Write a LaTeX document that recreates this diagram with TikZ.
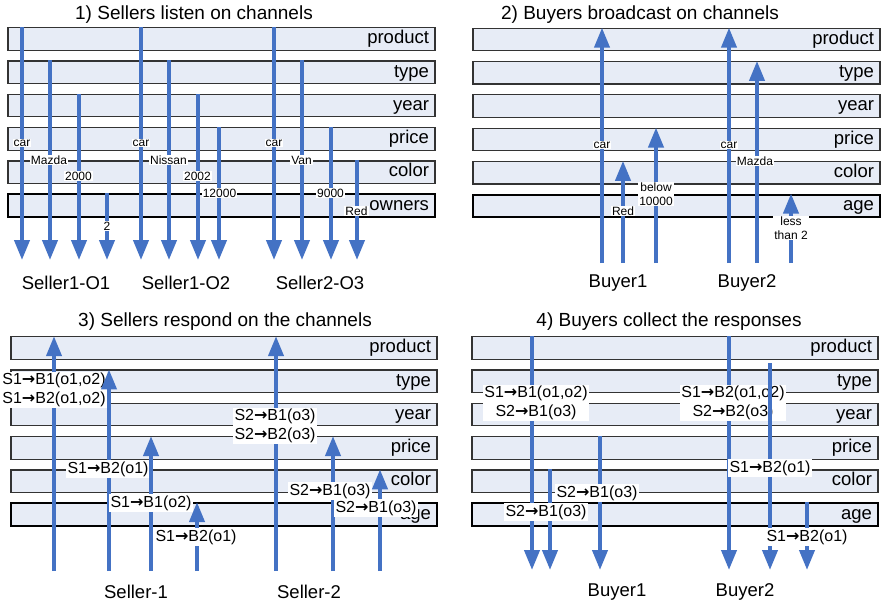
\documentclass[tikz,border=0pt]{standalone}
\usepackage{fontspec}
\setmainfont{Liberation Sans}
\newfontfamily\arrowfont{DejaVu Sans}
\usetikzlibrary{arrows.meta}
\definecolor{chanfill}{RGB}{231,236,246}
\definecolor{flowblue}{RGB}{68,114,196}
\newcommand{\sto}{{\arrowfont\bfseries →}}

\begin{document}
\begin{tikzpicture}[x=1pt, y=1pt, node distance=33.3pt,
    chan/.style = {draw=black!80, line width=1.2pt, fill=chanfill, text width=#1, align=right, inner xsep=6pt, inner ysep=0pt, minimum height=22.5pt, text height=13.5pt, text depth=4pt, font=\fontsize{18.5}{20}\selectfont},
    lastchan/.style = {chan=#1, draw=black, line width=2.4pt},
    flow/.style = {draw=flowblue, line width=4pt, -{Triangle[width=15pt,length=20pt]}},
    tag/.style = {fill=white, inner sep=1pt, align=center, font=\fontsize{12}{13.5}\selectfont},
    resp/.style = {fill=white, inner sep=1.2pt, align=center, font=\fontsize{16}{19}\selectfont},
    heading/.style = {font=\fontsize{19}{21}\selectfont},
    actor/.style = {font=\fontsize{18.5}{20}\selectfont}]
            \useasboundingbox (0,0) rectangle (881,-603);

            %1) sellers listen

            \node[heading] (T1) at (194,-15) {1) Sellers listen on channels};
            \node[chan=415pt] (PROD1) at (221.5,-39) {product};
            \node[chan=415pt] (TYPE1) [below of=PROD1] {type};
            \node[chan=415pt] (YEAR1) [below of=TYPE1] {year};
            \node[chan=415pt] (PRICE1) [below of=YEAR1] {price};
            \node[chan=415pt] (COLOR1) [below of=PRICE1] {color};
            \node[lastchan=415pt] (OWN1) [below of=COLOR1] {owners};

            \coordinate (L1) at (22,-260);
            \draw[flow] (L1 |- PROD1.north) -- (L1);
            \node[tag] at (22,-143) {car};
            \coordinate (L2) at (50,-260);
            \draw[flow] (L2 |- TYPE1.north) -- (L2);
            \node[tag] at (49,-160) {Mazda};
            \coordinate (L3) at (79,-260);
            \draw[flow] (L3 |- YEAR1.north) -- (L3);
            \node[tag] at (78.5,-176) {2000};
            \coordinate (L4) at (107,-260);
            \draw[flow] (L4 |- OWN1.north) -- (L4);
            \node[tag] at (107,-226) {2};

            \coordinate (L5) at (141,-260);
            \draw[flow] (L5 |- PROD1.north) -- (L5);
            \node[tag] at (141,-143) {car};
            \coordinate (L6) at (169,-260);
            \draw[flow] (L6 |- TYPE1.north) -- (L6);
            \node[tag] at (168.5,-160) {Nissan};
            \coordinate (L7) at (198,-260);
            \draw[flow] (L7 |- YEAR1.north) -- (L7);
            \node[tag] at (197.5,-176) {2002};
            \coordinate (L8) at (219,-260);
            \draw[flow] (L8 |- PRICE1.north) -- (L8);
            \node[tag] at (219.5,-193) {12000};

            \coordinate (L9) at (274,-260);
            \draw[flow] (L9 |- PROD1.north) -- (L9);
            \node[tag] at (274,-143) {car};
            \coordinate (L10) at (302,-260);
            \draw[flow] (L10 |- TYPE1.north) -- (L10);
            \node[tag] at (301.5,-160) {Van};
            \coordinate (L11) at (331,-260);
            \draw[flow] (L11 |- PRICE1.north) -- (L11);
            \node[tag] at (330.5,-193) {9000};
            \coordinate (L12) at (357,-260);
            \draw[flow] (L12 |- COLOR1.north) -- (L12);
            \node[tag] at (356.5,-211) {Red};

            \node[actor] (SO1) at (66,-283) {Seller1-O1};
            \node[actor] (SO2) at (186,-283) {Seller1-O2};
            \node[actor] (SO3) at (320,-283) {Seller2-O3};

            %2) buyers broadcast

            \node[heading] (T2) at (640,-15) {2) Buyers broadcast on channels};
            \node[chan=395pt] (PROD2) at (676.5,-39.5) {product};
            \node[chan=395pt] (TYPE2) [below of=PROD2] {type};
            \node[chan=395pt] (YEAR2) [below of=TYPE2] {year};
            \node[chan=395pt] (PRICE2) [below of=YEAR2] {price};
            \node[chan=395pt] (COLOR2) [below of=PRICE2] {color};
            \node[lastchan=395pt] (AGE2) [below of=COLOR2] {age};

            \coordinate (B1) at (602,-263);
            \draw[flow] (B1) -- (B1 |- PROD2.north);
            \node[tag] at (602,-145) {car};
            \coordinate (B2) at (623,-263);
            \draw[flow] (B2) -- (B2 |- COLOR2.north);
            \node[tag] at (623,-211) {Red};
            \coordinate (B3) at (656,-263);
            \draw[flow] (B3) -- (B3 |- PRICE2.north);
            \node[tag] at (656,-194) {below\\10000};
            \coordinate (B4) at (729,-263);
            \draw[flow] (B4) -- (B4 |- PROD2.north);
            \node[tag] at (729,-145) {car};
            \coordinate (B5) at (757,-263);
            \draw[flow] (B5) -- (B5 |- TYPE2.north);
            \node[tag] at (755,-161) {Mazda};
            \coordinate (B6) at (791,-263);
            \draw[flow] (B6) -- (B6 |- AGE2.north);
            \node[tag] at (791,-228) {less\\than 2};

            \node[actor] (BY1) at (618,-283) {Buyer1};
            \node[actor] (BY2) at (747,-283) {Buyer2};

            %3) sellers respond

            \node[heading] (T3) at (225,-322) {3) Sellers respond on the channels};
            \node[chan=414pt] (PROD3) at (224,-348) {product};
            \node[chan=414pt] (TYPE3) [below of=PROD3] {type};
            \node[chan=414pt] (YEAR3) [below of=TYPE3] {year};
            \node[chan=414pt] (PRICE3) [below of=YEAR3] {price};
            \node[chan=414pt] (COLOR3) [below of=PRICE3] {color};
            \node[lastchan=414pt] (AGE3) [below of=COLOR3] {age};

            \coordinate (R1) at (54,-571);
            \draw[flow] (R1) -- (R1 |- PROD3.north);
            \node[resp] at (54,-390) {S1\sto B1(o1,o2)\\S1\sto B2(o1,o2)};
            \coordinate (R2) at (109,-571);
            \draw[flow] (R2) -- (R2 |- TYPE3.north);
            \node[resp] at (108,-469) {S1\sto B2(o1)};
            \coordinate (R3) at (151,-571);
            \draw[flow] (R3) -- (R3 |- PRICE3.north);
            \node[resp] at (151,-503) {S1\sto B1(o2)};
            \coordinate (R4) at (197,-571);
            \draw[flow] (R4) -- (R4 |- AGE3.north);
            \node[resp] at (196,-537) {S1\sto B2(o1)};
            \coordinate (R5) at (276,-571);
            \draw[flow] (R5) -- (R5 |- PROD3.north);
            \node[resp] at (275,-426) {S2\sto B1(o3)\\S2\sto B2(o3)};
            \coordinate (R6) at (333,-571);
            \draw[flow] (R6) -- (R6 |- PRICE3.north);
            \node[resp] at (330,-491) {S2\sto B1(o3)};
            \coordinate (R7) at (380,-571);
            \draw[flow] (R7) -- (R7 |- COLOR3.north);
            \node[resp] at (376,-508) {S2\sto B1(o3)};

            \node[actor] (SL1) at (136,-592) {Seller-1};
            \node[actor] (SL2) at (309,-592) {Seller-2};

            %4) buyers collect

            \node[heading] (T4) at (669,-322) {4) Buyers collect the responses};
            \node[chan=394pt] (PROD4) at (675,-348) {product};
            \node[chan=394pt] (TYPE4) [below of=PROD4] {type};
            \node[chan=394pt] (YEAR4) [below of=TYPE4] {year};
            \node[chan=394pt] (PRICE4) [below of=YEAR4] {price};
            \node[chan=394pt] (COLOR4) [below of=PRICE4] {color};
            \node[lastchan=394pt] (AGE4) [below of=COLOR4] {age};

            \coordinate (C1) at (532,-570);
            \draw[flow] (C1 |- PROD4.north) -- (C1);
            \node[resp] at (536,-403) {S1\sto B1(o1,o2)\\S2\sto B1(o3)};
            \coordinate (C2) at (550,-570);
            \draw[flow] (C2 |- COLOR4.north) -- (C2);
            \node[resp] at (546,-512) {S2\sto B1(o3)};
            \coordinate (C3) at (600,-570);
            \draw[flow] (C3 |- PRICE4.north) -- (C3);
            \node[resp] at (597,-493) {S2\sto B1(o3)};
            \coordinate (C4) at (729,-570);
            \draw[flow] (C4 |- PROD4.north) -- (C4);
            \node[resp] at (733,-403) {S1\sto B2(o1,o2)\\S2\sto B2(o3)};
            \coordinate (C5) at (770,-570);
            \draw[flow] ([yshift=6pt]C5 |- TYPE4.north) -- (C5);
            \node[resp] at (770,-468) {S1\sto B2(o1)};
            \coordinate (C6) at (807,-570);
            \draw[flow] (C6 |- AGE4.north) -- (C6);
            \node[resp] at (807,-537) {S1\sto B2(o1)};

            \node[actor] (BC1) at (617,-592) {Buyer1};
            \node[actor] (BC2) at (745,-592) {Buyer2};
\end{tikzpicture}
\end{document}
